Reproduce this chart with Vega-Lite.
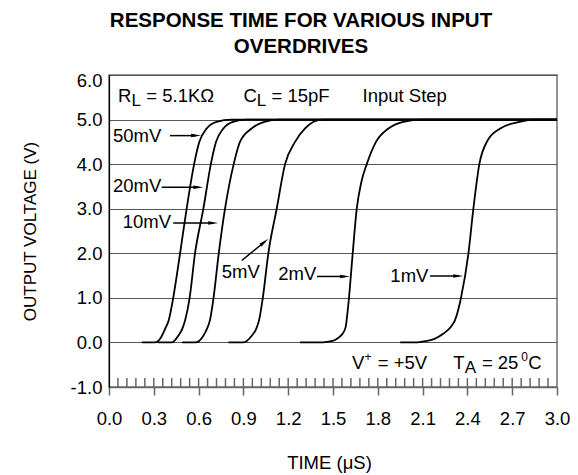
{
  "$schema": "https://vega.github.io/schema/vega-lite/v6.json",
  "width": 448,
  "height": 312,
  "autosize": {"type": "none"},
  "padding": {"left": 109, "top": 75, "right": 21, "bottom": 88},
  "background": "white",
  "config": {
    "view": {"stroke": "#707070", "strokeWidth": 1.5},
    "font": "Liberation Sans"
  },
  "title": {
    "text": ["RESPONSE TIME FOR VARIOUS INPUT", "OVERDRIVES"],
    "font": "Liberation Sans",
    "fontSize": 20.5,
    "fontWeight": "bold",
    "color": "black",
    "anchor": "middle",
    "dx": -32,
    "offset": 14,
    "lineHeight": 26
  },
  "datasets": {
    "curves": [
      {"series": "50mV", "t": 0.22, "v": 0}, {"series": "50mV", "t": 0.31, "v": 0}, {"series": "50mV", "t": 0.35, "v": 0.12}, {"series": "50mV", "t": 0.375, "v": 0.3}, {"series": "50mV", "t": 0.40, "v": 0.5}, {"series": "50mV", "t": 0.43, "v": 1.0}, {"series": "50mV", "t": 0.476, "v": 2.0}, {"series": "50mV", "t": 0.52, "v": 3.0}, {"series": "50mV", "t": 0.57, "v": 4.0}, {"series": "50mV", "t": 0.605, "v": 4.5}, {"series": "50mV", "t": 0.654, "v": 4.8}, {"series": "50mV", "t": 0.72, "v": 4.95}, {"series": "50mV", "t": 0.82, "v": 5.0}, {"series": "50mV", "t": 3.0, "v": 5.0},
      {"series": "20mV", "t": 0.33, "v": 0}, {"series": "20mV", "t": 0.42, "v": 0}, {"series": "20mV", "t": 0.464, "v": 0.15}, {"series": "20mV", "t": 0.49, "v": 0.3}, {"series": "20mV", "t": 0.51, "v": 0.5}, {"series": "20mV", "t": 0.54, "v": 1.0}, {"series": "20mV", "t": 0.576, "v": 2.0}, {"series": "20mV", "t": 0.632, "v": 3.0}, {"series": "20mV", "t": 0.682, "v": 4.0}, {"series": "20mV", "t": 0.717, "v": 4.5}, {"series": "20mV", "t": 0.766, "v": 4.8}, {"series": "20mV", "t": 0.83, "v": 4.95}, {"series": "20mV", "t": 0.92, "v": 5.0}, {"series": "20mV", "t": 3.0, "v": 5.0},
      {"series": "10mV", "t": 0.49, "v": 0}, {"series": "10mV", "t": 0.58, "v": 0}, {"series": "10mV", "t": 0.632, "v": 0.15}, {"series": "10mV", "t": 0.655, "v": 0.3}, {"series": "10mV", "t": 0.676, "v": 0.5}, {"series": "10mV", "t": 0.70, "v": 1.0}, {"series": "10mV", "t": 0.735, "v": 2.0}, {"series": "10mV", "t": 0.777, "v": 3.0}, {"series": "10mV", "t": 0.835, "v": 4.0}, {"series": "10mV", "t": 0.877, "v": 4.5}, {"series": "10mV", "t": 0.955, "v": 4.8}, {"series": "10mV", "t": 1.04, "v": 4.95}, {"series": "10mV", "t": 1.14, "v": 5.0}, {"series": "10mV", "t": 3.0, "v": 5.0},
      {"series": "5mV", "t": 0.80, "v": 0}, {"series": "5mV", "t": 0.90, "v": 0}, {"series": "5mV", "t": 0.956, "v": 0.15}, {"series": "5mV", "t": 0.985, "v": 0.3}, {"series": "5mV", "t": 1.005, "v": 0.5}, {"series": "5mV", "t": 1.03, "v": 1.0}, {"series": "5mV", "t": 1.067, "v": 2.0}, {"series": "5mV", "t": 1.123, "v": 3.0}, {"series": "5mV", "t": 1.179, "v": 4.0}, {"series": "5mV", "t": 1.246, "v": 4.5}, {"series": "5mV", "t": 1.313, "v": 4.8}, {"series": "5mV", "t": 1.37, "v": 4.95}, {"series": "5mV", "t": 1.43, "v": 5.0}, {"series": "5mV", "t": 3.0, "v": 5.0},
      {"series": "2mV", "t": 1.28, "v": 0}, {"series": "2mV", "t": 1.40, "v": 0}, {"series": "2mV", "t": 1.47, "v": 0.02}, {"series": "2mV", "t": 1.51, "v": 0.05}, {"series": "2mV", "t": 1.534, "v": 0.1}, {"series": "2mV", "t": 1.565, "v": 0.2}, {"series": "2mV", "t": 1.585, "v": 0.35}, {"series": "2mV", "t": 1.598, "v": 0.7}, {"series": "2mV", "t": 1.607, "v": 1.0}, {"series": "2mV", "t": 1.632, "v": 2.0}, {"series": "2mV", "t": 1.659, "v": 3.0}, {"series": "2mV", "t": 1.69, "v": 3.6}, {"series": "2mV", "t": 1.726, "v": 4.0}, {"series": "2mV", "t": 1.788, "v": 4.5}, {"series": "2mV", "t": 1.871, "v": 4.8}, {"series": "2mV", "t": 1.97, "v": 4.95}, {"series": "2mV", "t": 2.1, "v": 5.0}, {"series": "2mV", "t": 3.0, "v": 5.0},
      {"series": "1mV", "t": 1.95, "v": 0}, {"series": "1mV", "t": 2.05, "v": 0}, {"series": "1mV", "t": 2.12, "v": 0.03}, {"series": "1mV", "t": 2.18, "v": 0.08}, {"series": "1mV", "t": 2.24, "v": 0.2}, {"series": "1mV", "t": 2.29, "v": 0.35}, {"series": "1mV", "t": 2.317, "v": 0.5}, {"series": "1mV", "t": 2.34, "v": 0.75}, {"series": "1mV", "t": 2.357, "v": 1.0}, {"series": "1mV", "t": 2.407, "v": 2.0}, {"series": "1mV", "t": 2.44, "v": 3.0}, {"series": "1mV", "t": 2.48, "v": 4.0}, {"series": "1mV", "t": 2.53, "v": 4.5}, {"series": "1mV", "t": 2.62, "v": 4.8}, {"series": "1mV", "t": 2.75, "v": 4.95}, {"series": "1mV", "t": 2.85, "v": 5.0}, {"series": "1mV", "t": 3.0, "v": 5.0}
    ],
    "ticks": [
      {"t": 0.06}, {"t": 0.12}, {"t": 0.18}, {"t": 0.24}, {"t": 0.3}, {"t": 0.36}, {"t": 0.42}, {"t": 0.48}, {"t": 0.54}, {"t": 0.6},
      {"t": 0.66}, {"t": 0.72}, {"t": 0.78}, {"t": 0.84}, {"t": 0.9}, {"t": 0.96}, {"t": 1.02}, {"t": 1.08}, {"t": 1.14}, {"t": 1.2},
      {"t": 1.26}, {"t": 1.32}, {"t": 1.38}, {"t": 1.44}, {"t": 1.5}, {"t": 1.56}, {"t": 1.62}, {"t": 1.68}, {"t": 1.74}, {"t": 1.8},
      {"t": 1.86}, {"t": 1.92}, {"t": 1.98}, {"t": 2.04}, {"t": 2.1}, {"t": 2.16}, {"t": 2.22}, {"t": 2.28}, {"t": 2.34}, {"t": 2.4},
      {"t": 2.46}, {"t": 2.52}, {"t": 2.58}, {"t": 2.64}, {"t": 2.7}, {"t": 2.76}, {"t": 2.82}, {"t": 2.88}, {"t": 2.94}
    ],
    "arrows": [
      {"label": "50mV", "t": 0.408, "v": 4.64, "t2": 0.583, "v2": 4.64},
      {"label": "20mV", "t": 0.353, "v": 3.48, "t2": 0.598, "v2": 3.48},
      {"label": "10mV", "t": 0.43, "v": 2.68, "t2": 0.698, "v2": 2.68},
      {"label": "5mV", "t": 0.889, "v": 1.839, "t2": 1.041, "v2": 2.253},
      {"label": "2mV", "t": 1.393, "v": 1.48, "t2": 1.58, "v2": 1.48},
      {"label": "1mV", "t": 2.15, "v": 1.49, "t2": 2.339, "v2": 1.49}
    ],
    "texts": [
      {"kind": "main", "text": "50mV", "t": 0.027, "v": 4.49},
      {"kind": "main", "text": "20mV", "t": 0.027, "v": 3.37},
      {"kind": "main", "text": "10mV", "t": 0.092, "v": 2.56},
      {"kind": "main", "text": "5mV", "t": 0.755, "v": 1.435},
      {"kind": "main", "text": "2mV", "t": 1.133, "v": 1.39},
      {"kind": "main", "text": "1mV", "t": 1.884, "v": 1.35},
      {"kind": "main", "text": "R", "t": 0.06, "v": 5.388},
      {"kind": "sub", "text": "L", "t": 0.15, "v": 5.388},
      {"kind": "main", "text": "= 5.1KΩ", "t": 0.25, "v": 5.388},
      {"kind": "main", "text": "C", "t": 0.90, "v": 5.388},
      {"kind": "sub", "text": "L", "t": 0.99, "v": 5.388},
      {"kind": "main", "text": "= 15pF", "t": 1.088, "v": 5.388},
      {"kind": "main", "text": "Input Step", "t": 1.698, "v": 5.388},
      {"kind": "main", "text": "V", "t": 1.628, "v": -0.59},
      {"kind": "sup", "text": "+", "t": 1.711, "v": -0.59},
      {"kind": "main", "text": "= +5V", "t": 1.8, "v": -0.59},
      {"kind": "main", "text": "T", "t": 2.305, "v": -0.59},
      {"kind": "sub", "text": "A", "t": 2.383, "v": -0.59},
      {"kind": "main", "text": "= 25", "t": 2.497, "v": -0.59},
      {"kind": "sup", "text": "0", "t": 2.76, "v": -0.59},
      {"kind": "main", "text": "C", "t": 2.808, "v": -0.59}
    ]
  },
  "layer": [
    {
      "data": {"name": "curves"},
      "mark": {"type": "line", "interpolate": "monotone", "color": "black", "strokeWidth": 1.8},
      "encoding": {
        "x": {
          "field": "t", "type": "quantitative",
          "scale": {"domain": [0, 3], "nice": false, "zero": false},
          "axis": {
            "title": "TIME (μS)",
            "values": [0, 0.3, 0.6, 0.9, 1.2, 1.5, 1.8, 2.1, 2.4, 2.7, 3.0],
            "format": ".1f",
            "grid": false,
            "tickSize": 8, "tickColor": "#666", "tickWidth": 1.5,
            "domainColor": "#666", "domainWidth": 1.5,
            "labelFont": "Liberation Sans", "labelFontSize": 18.5, "labelColor": "black",
            "labelBaseline": "alphabetic", "labelPadding": 29,
            "labelFlush": false, "labelOverlap": false,
            "titleFont": "Liberation Sans", "titleFontSize": 18.5, "titleFontWeight": "normal", "titleColor": "black",
            "titleBaseline": "alphabetic", "titleAlign": "center", "titleX": 220, "titleY": 81
          }
        },
        "y": {
          "field": "v", "type": "quantitative",
          "scale": {"domain": [-1, 6], "nice": false, "zero": false},
          "axis": {
            "title": "OUTPUT VOLTAGE (V)",
            "values": [-1, 0, 1, 2, 3, 4, 5, 6],
            "format": ".1f",
            "labelExpr": "replace(datum.label, '−', '-')",
            "grid": true, "gridColor": "#555", "gridWidth": 1,
            "ticks": false,
            "domainColor": "black", "domainWidth": 1.2,
            "labelFont": "Liberation Sans", "labelFontSize": 18.5, "labelColor": "black",
            "labelPadding": 7,
            "labelOffset": {"condition": {"test": "datum.value == 6", "value": 5}, "value": 0},
            "labelFlush": false, "labelOverlap": false,
            "titleFont": "Liberation Sans", "titleFontSize": 17, "titleFontWeight": "normal", "titleColor": "black",
            "titleAngle": -90, "titleAlign": "center", "titleBaseline": "middle",
            "titleX": -79, "titleY": 156
          }
        },
        "detail": {"field": "series"}
      }
    },
    {
      "data": {"name": "ticks"},
      "mark": {"type": "rule", "color": "#666", "strokeWidth": 1.5},
      "encoding": {
        "x": {"field": "t", "type": "quantitative"},
        "y": {"datum": -1},
        "y2": {"datum": -0.8}
      }
    },
    {
      "data": {"name": "arrows"},
      "mark": {"type": "rule", "color": "black", "strokeWidth": 1.5},
      "encoding": {
        "x": {"field": "t", "type": "quantitative"},
        "y": {"field": "v", "type": "quantitative"},
        "x2": {"field": "t2"},
        "y2": {"field": "v2"}
      }
    },
    {
      "data": {"name": "arrows"},
      "transform": [{"filter": "datum.label != '5mV'"}],
      "mark": {"type": "point", "shape": "M -1 -0.35 L 1 0 L -1 0.35 Z", "filled": true, "color": "black", "opacity": 1, "size": 100, "strokeWidth": 0},
      "encoding": {
        "x": {"field": "t2", "type": "quantitative"},
        "y": {"field": "v2", "type": "quantitative"}
      }
    },
    {
      "data": {"name": "arrows"},
      "transform": [{"filter": "datum.label == '5mV'"}],
      "mark": {"type": "point", "shape": "M -1 -0.35 L 1 0 L -1 0.35 Z", "filled": true, "color": "black", "opacity": 1, "size": 100, "strokeWidth": 0, "angle": -39},
      "encoding": {
        "x": {"field": "t2", "type": "quantitative"},
        "y": {"field": "v2", "type": "quantitative"}
      }
    },
    {
      "data": {"name": "texts"},
      "transform": [{"filter": "datum.kind == 'main'"}],
      "mark": {"type": "text", "align": "left", "baseline": "alphabetic", "font": "Liberation Sans", "fontSize": 18.5, "color": "black"},
      "encoding": {
        "x": {"field": "t", "type": "quantitative"},
        "y": {"field": "v", "type": "quantitative"},
        "text": {"field": "text"}
      }
    },
    {
      "data": {"name": "texts"},
      "transform": [{"filter": "datum.kind == 'sub'"}],
      "mark": {"type": "text", "align": "left", "baseline": "alphabetic", "font": "Liberation Sans", "fontSize": 17, "dy": 4, "color": "black"},
      "encoding": {
        "x": {"field": "t", "type": "quantitative"},
        "y": {"field": "v", "type": "quantitative"},
        "text": {"field": "text"}
      }
    },
    {
      "data": {"name": "texts"},
      "transform": [{"filter": "datum.kind == 'sup'"}],
      "mark": {"type": "text", "align": "left", "baseline": "alphabetic", "font": "Liberation Sans", "fontSize": 12, "dy": -8, "color": "black"},
      "encoding": {
        "x": {"field": "t", "type": "quantitative"},
        "y": {"field": "v", "type": "quantitative"},
        "text": {"field": "text"}
      }
    }
  ]
}
